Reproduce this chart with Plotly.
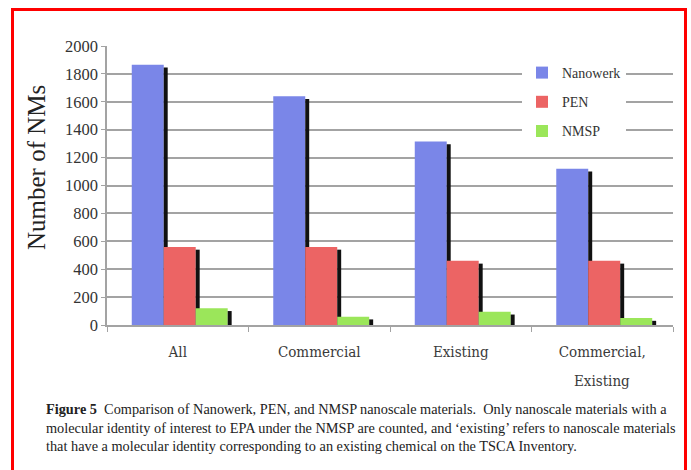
import plotly.graph_objects as go

categories = ["All", "Commercial", "Existing", "Commercial,"]
second_line = ["", "", "", "Existing"]
nanowerk = [1865, 1640, 1315, 1120]
pen = [560, 560, 460, 460]
nmsp = [120, 60, 95, 50]
y_ticks = list(range(0, 2001, 200))

series = [
    ("Nanowerk", nanowerk, "#7a86e8"),
    ("PEN", pen, "#ec6464"),
    ("NMSP", nmsp, "#9be65a"),
]

# layout geometry (pixels)
W, H = 691, 470
L, R, T, B = 107, 673, 46, 325
pw, ph = R - L, B - T

def px(x):
    return (x - L) / pw

def py(y):
    return (B - y) / ph

bar_w = 0.226
shadow_w = 0.028
start = -0.325

fig = go.Figure()
for i, (name, vals, col) in enumerate(series):
    off = start + i * bar_w
    fig.add_trace(go.Bar(
        x=categories, y=vals, name=name, legendgroup=name,
        offset=off, width=bar_w,
        marker=dict(color=col, line=dict(width=0)),
    ))
    fig.add_trace(go.Bar(
        x=categories, y=[v - 20 for v in vals], showlegend=False,
        offset=off + bar_w, width=shadow_w, hoverinfo="skip",
        marker=dict(color="#111111", line=dict(width=0)),
    ))

cat_font = dict(family="DejaVu Serif Condensed", size=15, color="#3a3a3a")

fig.update_layout(
    width=W, height=H,
    margin=dict(l=L, r=W - R, t=T, b=H - B),
    paper_bgcolor="white", plot_bgcolor="white",
    barmode="overlay",
    showlegend=True,
    legend=dict(
        x=px(522), y=py(57), xanchor="left", yanchor="top",
        bgcolor="white", borderwidth=0,
        font=dict(family="Liberation Serif", size=14, color="#333333"),
        tracegroupgap=8, itemwidth=30,
    ),
    yaxis=dict(
        range=[0, 2000], tickvals=y_ticks,
        showgrid=True, gridcolor="#a3a3a3", gridwidth=1.5,
        showline=True, linecolor="#a3a3a3", linewidth=1.5,
        ticks="outside", ticklen=4, tickcolor="#a3a3a3",
        tickfont=dict(family="Liberation Serif", size=16.5, color="#333333"),
        zeroline=False,
    ),
    xaxis=dict(
        range=[-0.5, 3.5],
        showline=True, linecolor="#a3a3a3", linewidth=1.5,
        ticks="outside", ticklen=5, tickcolor="#a3a3a3", tickson="boundaries",
        tickfont=cat_font, ticklabelstandoff=12,
        showgrid=False,
    ),
    font=dict(family="Liberation Serif"),
)

for c, s in zip(categories, second_line):
    if s:
        fig.add_annotation(
            text=s, xref="x", yref="paper", x=c, y=py(381),
            xanchor="center", yanchor="middle", showarrow=False, font=cat_font,
        )

fig.add_annotation(
    text="Number of NMs", textangle=-90,
    xref="paper", yref="paper", x=px(36), y=py(168),
    xanchor="center", yanchor="middle", showarrow=False,
    font=dict(family="Liberation Serif", size=25, color="#222222"),
)

caption = ("<b>Figure 5</b>  Comparison of Nanowerk, PEN, and NMSP nanoscale materials.  Only nanoscale materials with a<br>"
           "molecular identity of interest to EPA under the NMSP are counted, and ‘existing’ refers to nanoscale materials<br>"
           "that have a molecular identity corresponding to an existing chemical on the TSCA Inventory.")
fig.add_annotation(
    text=caption, align="left",
    xref="paper", yref="paper", x=px(44), y=py(399),
    xanchor="left", yanchor="top", showarrow=False,
    font=dict(family="Liberation Serif", size=14.3, color="#222222"),
)

fig.add_shape(
    type="rect", xref="paper", yref="paper",
    x0=px(12.5), x1=px(685.5), y0=py(478), y1=py(9.5),
    line=dict(color="#ff0000", width=3), fillcolor="rgba(0,0,0,0)",
    layer="above",
)

fig.write_html("out.html")
